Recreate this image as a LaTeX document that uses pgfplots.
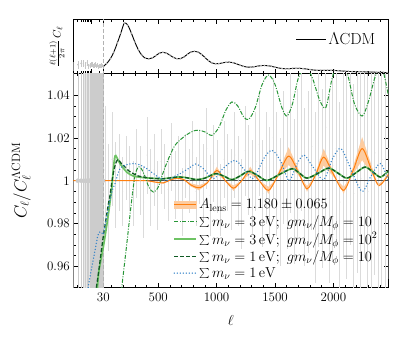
\documentclass[border=0pt]{standalone}
\usepackage{pgfplots}
\pgfplotsset{compat=1.18}
\usepackage{pgfplotstable}
\definecolor{corange}{RGB}{255,127,14}
\definecolor{cband}{RGB}{253,204,160}
\definecolor{cdashdot}{RGB}{40,150,55}
\definecolor{clight}{RGB}{110,195,100}
\definecolor{cdark}{RGB}{15,90,35}
\definecolor{cblue}{RGB}{50,130,200}

\pgfplotstableread{
l D
30 900
60 1250
90 1750
120 2500
150 3500
180 4600
210 5700
240 5450
270 4600
300 3600
330 2750
360 2150
390 1820
420 1750
450 1850
480 2100
510 2380
540 2470
570 2380
600 2150
630 1900
660 1760
690 1770
720 1950
750 2250
780 2500
810 2580
840 2500
870 2250
900 1900
930 1550
960 1300
990 1200
1020 1220
1050 1300
1080 1370
1110 1380
1140 1330
1170 1200
1200 1050
1230 920
1260 840
1290 830
1320 870
1350 940
1380 1000
1410 1015
1440 990
1470 920
1500 830
1530 740
1560 680
1590 650
1620 660
1650 690
1680 710
1710 700
1740 670
1770 620
1800 560
1830 510
1860 480
1890 470
1920 470
1950 480
1980 480
2010 465
2040 440
2070 410
2100 380
2130 355
2160 340
2190 330
2220 325
2250 320
2280 310
2310 295
2340 280
2370 265
2400 255
2430 245
2460 235
}\spectrum

\pgfplotstableread{
l D e
2 950 500
3 1100 450
4 1250 400
5 1200 380
6 1000 350
7 1300 330
8 900 300
9 1050 280
10 1150 270
11 1100 260
12 950 250
13 1000 240
14 1150 230
15 1050 220
16 900 210
17 1100 200
18 1000 200
19 850 190
20 950 180
21 1050 180
22 900 170
23 1000 170
24 1100 160
25 950 160
26 1000 150
27 1050 150
28 950 150
29 900 140
}\lowspec

\pgfplotstableread{
l c e
2 1 0.2
3 1 0.2
4 1 0.2
5 1 0.2
6 1 0.2
7 1 0.2
8 1 0.2
9 1 0.2
10 1 0.2
11 1 0.2
12 1 0.2
13 1 0.2
14 1 0.2
15 1 0.2
16 1 0.2
17 1 0.2
18 1 0.2
19 1 0.2
20 1 0.2
21 1 0.2
22 1 0.2
23 1 0.2
24 1 0.2
25 1 0.2
26 1 0.2
27 1 0.2
28 1 0.2
29 1 0.2
}\lowres

\pgfplotstableread{
l c e
45 1.005 0.030
75 0.992 0.025
105 1.010 0.022
135 0.998 0.020
165 1.004 0.018
195 0.995 0.016
225 1.006 0.015
255 1.001 0.015
285 0.994 0.015
315 1.008 0.016
345 1.000 0.016
375 0.990 0.017
405 1.012 0.018
435 0.997 0.018
465 1.005 0.017
495 0.993 0.016
525 1.009 0.015
555 1.002 0.015
585 0.996 0.015
615 1.011 0.016
645 0.998 0.016
675 1.004 0.017
705 0.990 0.016
735 1.007 0.015
765 1.000 0.015
795 1.013 0.015
825 0.995 0.016
855 1.006 0.017
885 0.999 0.018
915 1.015 0.019
945 0.993 0.019
975 1.008 0.018
1005 1.002 0.017
1035 0.991 0.017
1065 1.010 0.018
1095 1.004 0.018
1125 0.996 0.019
1155 1.012 0.020
1185 1.000 0.021
1215 0.989 0.021
1245 1.014 0.021
1275 1.005 0.021
1305 0.997 0.022
1335 1.009 0.023
1365 1.017 0.024
1395 0.994 0.025
1425 1.006 0.026
1455 0.998 0.027
1485 1.020 0.028
1515 1.003 0.029
1545 0.990 0.030
1575 1.011 0.031
1605 1.000 0.032
1635 1.018 0.033
1665 0.995 0.034
1695 1.008 0.035
1725 1.022 0.036
1755 0.997 0.037
1785 1.004 0.038
1815 1.016 0.039
1845 0.992 0.040
1875 1.010 0.041
1905 1.001 0.042
1935 1.025 0.043
1965 0.996 0.044
1995 1.007 0.045
2025 1.015 0.046
2055 0.990 0.047
2085 1.012 0.048
2115 1.003 0.049
2145 1.020 0.050
2175 0.994 0.051
2205 1.009 0.052
2235 1.001 0.053
2265 1.018 0.054
2295 0.995 0.055
2325 1.006 0.056
2355 1.013 0.057
2385 0.998 0.058
2415 1.010 0.059
2445 1.003 0.060
2470 1.015 0.061
}\binres

\pgfplotstableread{
l v
2 1
30 1
150 1
300 1
400 1
459 0.9995
545 0.9990
610 1.0005
660 1.0012
720 1.0005
780 0.9980
850 0.9967
920 0.9990
1002 1.0048
1075 1.0000
1145 0.9965
1215 1.0000
1288 1.0048
1365 1.0000
1445 0.9955
1530 1.0030
1617 1.0115
1700 1.0040
1774 0.9962
1850 1.0030
1917 1.0110
2000 1.0030
2088 0.9955
2170 1.0050
2246 1.0150
2320 1.0060
2388 0.9978
2470 1.0028
}\alens

% band polygon: upper edge forward, lower edge backward
\pgfplotstableread{
l v
400 1
459 0.99932
545 0.99864
610 1.00068
660 1.00163
720 1.00068
780 0.99728
850 0.99551
920 0.99864
1002 1.00653
1075 1
1145 0.99524
1215 1
1288 1.00653
1365 1
1445 0.99388
1530 1.00408
1617 1.01565
1700 1.00544
1774 0.99483
1850 1.00408
1917 1.01497
2000 1.00408
2088 0.99388
2170 1.0068
2246 1.02042
2320 1.00817
2388 0.99701
2470 1.00381
2470 1.00179
2388 0.99859
2320 1.00383
2246 1.00959
2170 1.0032
2088 0.99712
2000 1.00192
1917 1.00703
1850 1.00192
1774 0.99757
1700 1.00256
1617 1.00735
1530 1.00192
1445 0.99712
1365 1
1288 1.00307
1215 1
1145 0.99776
1075 1
1002 1.00307
920 0.99936
850 0.99789
780 0.99872
720 1.00032
660 1.00077
610 1.00032
545 0.99936
459 0.99968
400 1
}\alensband

\pgfplotstableread{
l v
150 0.930
188 0.950
230 0.970
273 0.991
300 1.0020
322 1.0058
345 1.0064
380 1.0030
420 0.9970
459 0.9947
500 0.9970
550 1.0050
601 1.0119
650 1.0170
731 1.0210
800 1.0232
846 1.0236
900 1.0228
960 1.0212
1020 1.0250
1080 1.0330
1131 1.0368
1180 1.0350
1230 1.0300
1274 1.0286
1330 1.0340
1390 1.0450
1445 1.0494
1500 1.0450
1560 1.0340
1603 1.0302
1650 1.0360
1700 1.0480
1760 1.0530
1820 1.0480
1880 1.0380
1935 1.0342
1990 1.0480
2055 1.0570
2120 1.0500
2180 1.0360
2246 1.0302
2300 1.0370
2360 1.0490
2415 1.0530
2470 1.0400
}\mthreegten

\pgfplotstableread{
l v
15 0.935
19 0.955
25 0.964
30 0.969
45 0.974
70 0.983
90 0.991
102 0.996
115 1.005
130 1.0115
145 1.0110
173 1.0080
231 1.0040
287 1.0022
350 1.0016
430 1.0012
488 1.0010
540 1.0009
600 1.0013
660 1.0017
720 1.0016
780 1.0010
831 1.0005
900 1.0012
988 1.0033
1060 1.0022
1131 1.0005
1200 1.0022
1274 1.0044
1350 1.0025
1431 1.0001
1540 1.0030
1646 1.0056
1710 1.0035
1774 1.0012
1870 1.0035
1960 1.0059
2040 1.0035
2117 1.0012
2200 1.0040
2272 1.0064
2340 1.0040
2403 1.0017
2470 1.0045
}\mthreeghundred

\pgfplotstableread{
l v
16 0.950
20 0.958
25 0.967
30 0.974
50 0.981
73 0.989
87 0.993
102 0.999
125 1.006
145 1.0092
159 1.0098
185 1.0080
216 1.0064
250 1.0045
287 1.0033
330 1.0022
373 1.0017
430 1.0012
488 1.0010
540 1.0009
600 1.0013
660 1.0017
720 1.0016
780 1.0010
831 1.0005
900 1.0012
988 1.0033
1060 1.0022
1131 1.0005
1200 1.0022
1274 1.0044
1350 1.0025
1431 1.0001
1540 1.0030
1646 1.0056
1710 1.0035
1774 1.0012
1870 1.0035
1960 1.0059
2040 1.0035
2117 1.0012
2200 1.0040
2272 1.0064
2340 1.0040
2403 1.0017
2470 1.0045
}\monegten

\pgfplotstableread{
l v
7.7 0.950
10 0.958
14 0.967
19 0.975
25 0.976
30 0.975
50 0.981
70 0.986
87 0.991
110 0.996
130 0.9986
173 1.0056
230 1.0075
302 1.0080
350 1.0072
402 1.0056
502 1.0017
574 1.0000
640 1.0020
688 1.0033
774 1.0062
820 1.0078
880 1.0060
973 1.0010
1060 1.0060
1159 1.0095
1240 1.0050
1316 1.0010
1400 1.0100
1474 1.0142
1550 1.0090
1620 1.0000
1690 1.0080
1750 1.0120
1830 1.0060
1917 1.0005
1990 1.0100
2065 1.0150
2160 1.0040
2246 0.9950
2320 1.0020
2403 1.0080
2470 1.0000
}\mone

\pgfplotsset{
  hybrid/.style={
    x coord trafo/.code={\pgfmathparse{ifthenelse(##1<30,30-218.5*log10(30/##1),##1)}},
    xmin=2, xmax=2470,
    scale only axis, width=315pt,
    xtick={10,30,500,1000,1500,2000},
    minor xtick={3,4,5,6,7,8,9,20,100,200,300,400,600,700,800,900,1100,1200,1300,1400,1600,1700,1800,1900,2100,2200,2300,2400},
    tick align=inside,
    xtick pos=both, ytick pos=both,
    major tick length=4.5pt, minor tick length=2.5pt,
    every tick/.style={black, line width=0.6pt},
    axis line style={line width=1pt},
    tick label style={font=\fontsize{13}{15}\selectfont},
  },
  imglcdm/.style={legend image code/.code={\draw[black, line width=1pt] (0pt,0pt) -- (30pt,0pt);}},
  imgband/.style={legend image code/.code={\fill[cband] (0pt,-3.2pt) rectangle (22pt,3.2pt); \draw[corange, line width=1pt] (0pt,0pt) -- (22pt,0pt);}},
  imgdashdot/.style={legend image code/.code={\draw[cdashdot, line width=1pt, dash pattern=on 4pt off 1.5pt on 1pt off 1.5pt] (0pt,0pt) -- (22pt,0pt);}},
  imglight/.style={legend image code/.code={\draw[clight, line width=1.7pt] (0pt,0pt) -- (22pt,0pt);}},
  imgdark/.style={legend image code/.code={\draw[cdark, line width=1.3pt, dash pattern=on 4pt off 2pt] (0pt,0pt) -- (22pt,0pt);}},
  imgblue/.style={legend image code/.code={\draw[cblue, line width=1.5pt, line cap=round, dash pattern=on 0pt off 3pt] (0pt,0pt) -- (22pt,0pt);}},
}

\begin{document}
\begin{tikzpicture}
\useasboundingbox (0,0) rectangle (415pt,343pt);

% ---------- top panel ----------
\begin{axis}[hybrid,
  at={(73.3pt,269.7pt)}, anchor=south west, height=53.4pt,
  ymin=150, ymax=6050, ytick=\empty,
  xticklabels={},
  ylabel={$\frac{\ell(\ell+1)}{2\pi}\,C_\ell$},
  every axis y label/.style={at={(axis description cs:-0.052,0.5)}, rotate=90, anchor=center, font=\fontsize{11}{12}\selectfont},
  legend style={at={(0.975,0.64)}, anchor=east, draw=none, fill=none, font=\fontsize{16}{18}\selectfont},
]
\addplot[gray!45, line width=0.4pt, only marks, mark=*, mark size=0.5pt, forget plot,
  error bars/.cd, y dir=both, y explicit, error bar style={gray!45, line width=0.4pt}, error mark=none]
  table[x=l, y=D, y error=e] {\lowspec};
\addlegendimage{imglcdm}
\addlegendentry{$\Lambda$CDM}
\addplot[black, line width=0.9pt, smooth, forget plot] table[x=l, y=D] {\spectrum};
\addplot[gray!60, only marks, mark=*, mark size=0.6pt, forget plot] table[x=l, y=D] {\spectrum};
\addplot[gray!60, line width=0.8pt, dash pattern=on 4pt off 2pt, forget plot] coordinates {(30,0) (30,7000)};
\end{axis}

% ---------- bottom panel ----------
\begin{axis}[hybrid,
  at={(73.3pt,55.3pt)}, anchor=south west, height=214.4pt,
  ymin=0.95, ymax=1.0502,
  ytick={0.96,0.98,1,1.02,1.04},
  yticklabels={0.96,0.98,1,1.02,1.04},
  minor y tick num=3,
  xticklabels={,30,500,1000,1500,2000},
  xticklabel style={yshift=-1.5pt},
  xlabel={$\ell$},
  ylabel={$C_\ell/C_\ell^{\Lambda\mathrm{CDM}}$},
  every axis y label/.style={at={(axis description cs:-0.165,0.5)}, rotate=90, anchor=center, font=\fontsize{17}{19}\selectfont},
  every axis x label/.style={at={(axis description cs:0.5,-0.152)}, anchor=center, font=\fontsize{15}{17}\selectfont},
  legend style={at={(0.982,0.022)}, anchor=south east, draw=none, fill=none,
    font=\fontsize{14}{15}\selectfont, row sep=0.8pt,
    column 1/.style={nodes={inner sep=0.8pt}},
    column 2/.style={nodes={inner xsep=3pt, inner ysep=0.6pt, text height=0.75em, text depth=0.25em}}},
  legend cell align=left,
]
% legend entries
\addlegendimage{imgband}
\addlegendentry{$A_{\mathrm{lens}}=1.180\pm0.065$}
\addlegendimage{imgdashdot}
\addlegendentry{$\sum m_\nu=3\,\mathrm{eV};\ g m_\nu/M_\phi=10$}
\addlegendimage{imglight}
\addlegendentry{$\sum m_\nu=3\,\mathrm{eV};\ g m_\nu/M_\phi=10^2$}
\addlegendimage{imgdark}
\addlegendentry{$\sum m_\nu=1\,\mathrm{eV};\ g m_\nu/M_\phi=10$}
\addlegendimage{imgblue}
\addlegendentry{$\sum m_\nu=1\,\mathrm{eV}$}

% data
\addplot[fill=gray!18, draw=none, forget plot] coordinates {(5,0.9) (29.5,0.9) (29.5,1.1) (5,1.1)} -- cycle;
\addplot[gray!40, only marks, mark=none, forget plot,
  error bars/.cd, y dir=both, y explicit, error bar style={gray!40, line width=0.5pt}, error mark=none]
  table[x=l, y=c, y error=e] {\lowres};
\addplot[gray!28, only marks, mark=*, mark size=0.3pt, forget plot,
  error bars/.cd, y dir=both, y explicit, error bar style={gray!28, line width=0.9pt}, error mark=none]
  table[x=l, y=c, y error=e] {\binres};
\addplot[gray!60, line width=0.8pt, dash pattern=on 4pt off 2pt, forget plot] coordinates {(30,0.9) (30,1.1)};
\addplot[black!70, line width=0.5pt, forget plot] coordinates {(2,1) (2470,1)};

% A_lens band + line
\addplot[fill=cband, draw=none, forget plot] table[x=l, y=v] {\alensband} -- cycle;
\addplot[corange, line width=1pt, smooth, forget plot] table[x=l, y=v] {\alens};

% models
\addplot[cdashdot, line width=1pt, smooth, dash pattern=on 4pt off 1.5pt on 1pt off 1.5pt, forget plot] table[x=l, y=v] {\mthreegten};
\addplot[clight, line width=1.7pt, smooth, forget plot] table[x=l, y=v] {\mthreeghundred};
\addplot[cdark, line width=1.3pt, smooth, dash pattern=on 4pt off 2pt, forget plot] table[x=l, y=v] {\monegten};
\addplot[cblue, line width=1.5pt, smooth, line cap=round, dash pattern=on 0pt off 3pt, forget plot] table[x=l, y=v] {\mone};
\end{axis}
\end{tikzpicture}
\end{document}
